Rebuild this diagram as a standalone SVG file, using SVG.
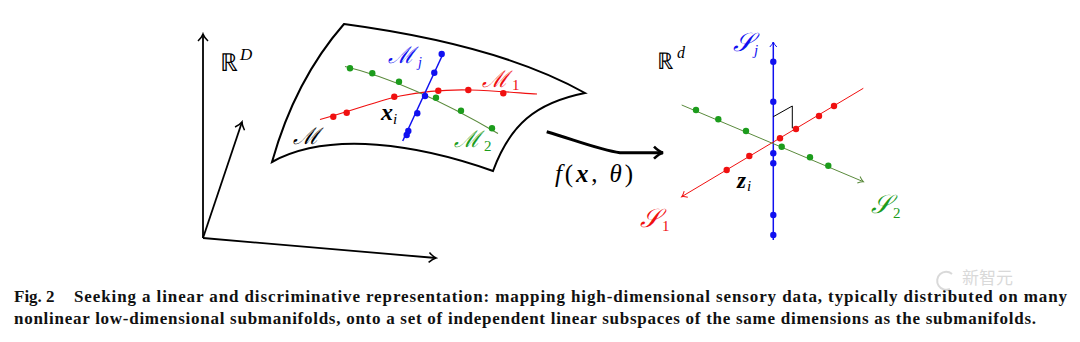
<svg xmlns="http://www.w3.org/2000/svg" width="1080" height="342" viewBox="0 0 1080 342">
<style>
.ax{fill:none;stroke:#000;stroke-width:1.8}
.m{font-family:"DejaVu Serif","Liberation Serif",serif;font-style:italic}
.it{font-family:"Liberation Serif",serif;font-style:italic}
.bi{font-family:"Liberation Serif",serif;font-style:italic;font-weight:bold}
.rm{font-family:"Liberation Serif",serif}
.cap{font-family:"Liberation Serif",serif;font-weight:bold;font-size:17px;fill:#111}
.r{fill:#f01010}.g{fill:#1c9c1c}.b{fill:#1010f0}
</style>
<defs>
<marker id="ak" viewBox="-9 -7 11 14" refX="0" refY="0" markerWidth="11" markerHeight="14" orient="auto" markerUnits="userSpaceOnUse"><path d="M-7,-5 Q-3,-1 0,0 Q-3,1 -7,5" fill="none" stroke="#000" stroke-width="1.5"/></marker>
<marker id="af" viewBox="-11 -8 13 16" refX="0" refY="0" markerWidth="13" markerHeight="16" orient="auto" markerUnits="userSpaceOnUse"><path d="M-9,-6 Q-4,-1 0,0 Q-4,1 -9,6" fill="none" stroke="#000" stroke-width="2.6"/></marker>
<marker id="ab" viewBox="-7 -5 9 10" refX="0" refY="0" markerWidth="9" markerHeight="10" orient="auto" markerUnits="userSpaceOnUse"><path d="M-5,-3.5 Q-2,-0.7 0,0 Q-2,0.7 -5,3.5" fill="none" stroke="#1010f0" stroke-width="1"/></marker>
<marker id="ar" viewBox="-7 -5 9 10" refX="0" refY="0" markerWidth="9" markerHeight="10" orient="auto" markerUnits="userSpaceOnUse"><path d="M-5,-3.5 Q-2,-0.7 0,0 Q-2,0.7 -5,3.5" fill="none" stroke="#f01010" stroke-width="1"/></marker>
<marker id="ag" viewBox="-7 -5 9 10" refX="0" refY="0" markerWidth="9" markerHeight="10" orient="auto" markerUnits="userSpaceOnUse"><path d="M-5,-3.5 Q-2,-0.7 0,0 Q-2,0.7 -5,3.5" fill="none" stroke="#5a8a3c" stroke-width="1"/></marker>
</defs>
<rect width="1080" height="342" fill="#fff"/>

<g id="axes-RD">
<line class="ax" x1="203" y1="238" x2="203" y2="34" marker-end="url(#ak)"/>
<line class="ax" x1="203" y1="238" x2="436" y2="258" marker-end="url(#ak)"/>
<line class="ax" x1="203" y1="238" x2="242" y2="122" marker-end="url(#ak)"/>
<text class="rm" x="220" y="71" font-size="25" font-family="DejaVu Serif">ℝ</text>
<text class="it" x="240" y="60" font-size="17">D</text>
</g>

<g id="manifold">
<path d="M344,24 Q500,45 585,93 C535,103 510,125 493,171 C420,145 330,130 272,162 Q295,80 344,24 Z" fill="none" stroke="#000" stroke-width="2"/>
<path d="M320,119.5 C355,110 380,100 400,96 C425,91 450,89.5 470,90 C500,91 520,93 537,94" fill="none" stroke="#f01010" stroke-width="1.2"/>
<path d="M345,66.5 Q410,82 498,133.5" fill="none" stroke="#5a8a3c" stroke-width="1.2"/>
<line x1="402.7" y1="141" x2="443.3" y2="53.3" stroke="#1010f0" stroke-width="1.5"/>
<g class="g"><circle cx="350" cy="68.3" r="3.2"/><circle cx="372.3" cy="73.3" r="3.2"/><circle cx="399" cy="81.7" r="3.2"/><circle cx="436" cy="97.7" r="3.2"/><circle cx="461" cy="110.7" r="3.2"/><circle cx="492" cy="128.3" r="3.2"/></g>
<g class="r"><circle cx="333.3" cy="116.7" r="3.2"/><circle cx="346.7" cy="112.7" r="3.2"/><circle cx="394.3" cy="96.7" r="3.2"/><circle cx="438.3" cy="90.7" r="3.2"/><circle cx="468.3" cy="90" r="3.2"/><circle cx="503.3" cy="93.3" r="3.2"/></g>
<g class="b"><circle cx="441.7" cy="54" r="3.2"/><circle cx="434.3" cy="72.7" r="3.2"/><circle cx="425" cy="96" r="3.2"/><circle cx="417.3" cy="113.3" r="3.2"/><circle cx="408.3" cy="131" r="3.2"/><circle cx="406.7" cy="135" r="3.2"/></g>
<text class="m b" x="388" y="63" font-size="23">ℳ</text><text class="it b" x="418" y="67" font-size="14">j</text>
<text class="m r" x="482" y="87" font-size="23">ℳ</text><text class="rm r" x="512" y="90" font-size="15">1</text>
<text class="m" x="293" y="144" font-size="23">ℳ</text>
<text class="m g" x="454" y="147" font-size="23">ℳ</text><text class="rm g" x="484" y="151" font-size="15">2</text>
<text class="bi" x="381" y="120" font-size="24">x</text><text class="it" x="393" y="124" font-size="15">i</text>
</g>

<g id="connectors">
<path d="M546.7,131.7 C575,140 600,150 620,152.7 L663,152.7" fill="none" stroke="#000" stroke-width="3" marker-end="url(#af)"/>
<text x="555" y="182" font-size="25" textLength="78" lengthAdjust="spacing"><tspan class="it">f</tspan><tspan class="rm">(</tspan><tspan class="bi">x</tspan><tspan class="rm">, </tspan><tspan class="it">θ</tspan><tspan class="rm">)</tspan></text>
</g>

<g id="subspaces">
<text class="rm" x="657" y="69" font-size="23" font-family="DejaVu Serif">ℝ</text>
<text class="it" x="677" y="58" font-size="16">d</text>
<line x1="773.3" y1="240" x2="773.3" y2="42" stroke="#1010f0" stroke-width="1.5" marker-end="url(#ab)"/>
<line x1="863.3" y1="88.3" x2="681.7" y2="196.7" stroke="#f01010" stroke-width="1" marker-end="url(#ar)"/>
<line x1="681.7" y1="105" x2="863.3" y2="181.7" stroke="#5a8a3c" stroke-width="1" marker-end="url(#ag)"/>
<polyline points="773.3,116.7 792.3,106 792.3,128.3" fill="none" stroke="#000" stroke-width="1"/>
<g class="b"><circle cx="773.3" cy="61.7" r="3.2"/><circle cx="773.3" cy="101.7" r="3.2"/><circle cx="773.3" cy="153.3" r="3.2"/><circle cx="773.3" cy="163.3" r="3.2"/><circle cx="773.3" cy="215" r="3.2"/><circle cx="773.3" cy="235" r="3.2"/></g>
<g class="r"><circle cx="726.7" cy="170" r="3.2"/><circle cx="749.3" cy="156" r="3.2"/><circle cx="780" cy="138.3" r="3.2"/><circle cx="796" cy="129" r="3.2"/><circle cx="819" cy="116" r="3.2"/><circle cx="834" cy="106" r="3.2"/></g>
<g class="g"><circle cx="696" cy="110" r="3.2"/><circle cx="718.3" cy="119.3" r="3.2"/><circle cx="746" cy="131" r="3.2"/><circle cx="781.7" cy="146.7" r="3.2"/><circle cx="810" cy="157.3" r="3.2"/><circle cx="828.3" cy="165.7" r="3.2"/></g>
<text class="m b" x="733" y="51" font-size="26">𝒮</text><text class="it b" x="754" y="55" font-size="15">j</text>
<text class="m r" x="640" y="227" font-size="26">𝒮</text><text class="rm r" x="662" y="231" font-size="15">1</text>
<text class="m g" x="871" y="213" font-size="26">𝒮</text><text class="rm g" x="893" y="218" font-size="15">2</text>
<text class="bi" x="737" y="188" font-size="23">z</text><text class="it" x="747" y="191" font-size="15">i</text>
</g>

<g id="caption">
<text class="cap" x="14" y="302">Fig. 2</text>
<text class="cap" x="74" y="302" textLength="993" lengthAdjust="spacing">Seeking a linear and discriminative representation: mapping high-dimensional sensory data, typically distributed on many</text>
<text class="cap" x="14" y="324" textLength="1022" lengthAdjust="spacing">nonlinear low-dimensional submanifolds, onto a set of independent linear subspaces of the same dimensions as the submanifolds.</text>
</g>

<g id="watermark" opacity="0.55">
<path d="M952,274 A9,9 0 1,0 950,289" fill="none" stroke="#bbb" stroke-width="2"/>
<text x="962" y="284" font-size="17" fill="#bbb" font-family="Noto Sans CJK SC,sans-serif">新智元</text>
</g>
</svg>
